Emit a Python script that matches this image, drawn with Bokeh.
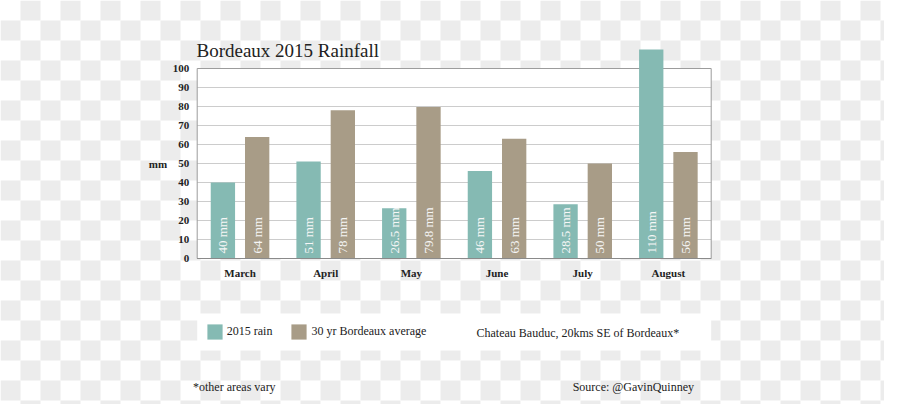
import numpy as np
from bokeh.plotting import figure
from bokeh.models import (ColumnDataSource, Range1d, FixedTicker, Label,
                          Legend, LegendItem)
from bokeh.transform import dodge
from bokeh.core.properties import value
from bokeh.embed import file_html
from bokeh.resources import INLINE

# ---------------- data ----------------
months = ["March", "April", "May", "June", "July", "August"]
rain_2015 = [40, 51, 26.5, 46, 28.5, 110]
avg_30yr = [64, 78, 79.8, 63, 50, 56]
y_ticks = [0, 10, 20, 30, 40, 50, 60, 70, 80, 90, 100]
series_names = ["2015 rain", "30 yr Bordeaux average"]
title_text = "Bordeaux 2015 Rainfall"
unit_text = "mm"
site_text = "Chateau Bauduc, 20kms SE of Bordeaux*"
note_text = "*other areas vary"
source_text = "Source: @GavinQuinney"

# ---------------- layout / style ----------------
W, H = 884, 404
BOX_L, BOX_R = 196.7, 710.7      # px of the plot box edges
XU = (BOX_R - BOX_L) / len(months)   # px per category
YU = 1.9                         # px per mm
Y0 = 258                         # px row of y = 0

def fx(X):  # canvas px -> x data (category index units)
    return (np.asarray(X, dtype=float) - BOX_L) / XU - 0.5

def fy(Y):  # canvas px -> y data
    return (Y0 - np.asarray(Y, dtype=float)) / YU

TEAL = "#85bab3"
TAN = "#a89c87"
FONT = "Liberation Serif"
DARK = "#222222"

n = len(months)
idx = list(range(n))
src = ColumnDataSource(dict(
    idx=idx,
    month=months,
    rain=rain_2015,
    avg=avg_30yr,
    rain_lbl=[f"{v:g} mm" for v in rain_2015],
    avg_lbl=[f"{v:g} mm" for v in avg_30yr],
))

p = figure(x_range=Range1d(float(fx(0)), float(fx(W))),
           y_range=Range1d(float(fy(H)), float(fy(0))), width=W, height=H,
           output_backend="svg", toolbar_location=None,
           min_border_left=0, min_border_right=0, min_border_top=0, min_border_bottom=0,
           background_fill_color="white", border_fill_color="white",
           outline_line_color=None)

box_l, box_r = -0.5, n - 0.5
top_val = y_ticks[-1]

# checkerboard backdrop of the reference picture
TILE = 20
ii, jj = np.meshgrid(np.arange(int(np.ceil(W / TILE)) + 1), np.arange(int(np.ceil(H / TILE)) + 1))
mask = (ii + jj) % 2 == 1
px0 = ii[mask] * TILE
py0 = jj[mask] * TILE
p.quad(left=fx(px0), right=fx(px0 + TILE), top=fy(py0), bottom=fy(py0 + TILE),
       fill_color="#ececec", line_color=None, level="image")

# white plot box
p.quad(left=[box_l], right=[box_r], bottom=[0], top=[top_val],
       fill_color="white", line_color=None, level="image")
# white legend strip
p.quad(left=[box_l], right=[box_r], bottom=[float(fy(350))], top=[float(fy(313))],
       fill_color="white", line_color=None, level="image")

# grid lines
p.segment(x0=box_l, x1=box_r, y0=y_ticks[1:-1], y1=y_ticks[1:-1],
          line_color="#cccccc", line_width=1)
# box border
p.quad(left=[box_l], right=[box_r], bottom=[0], top=[top_val],
       fill_color=None, line_color="#9c9c9c", line_width=1)

BW = 0.284
r1 = p.vbar(x=dodge("idx", -0.2), top="rain", width=BW,
            source=src, fill_color=TEAL, line_color=None)
r2 = p.vbar(x=dodge("idx", 0.2), top="avg", width=BW,
            source=src, fill_color=TAN, line_color=None)

for off, col in [(-0.2, "rain_lbl"), (0.2, "avg_lbl")]:
    p.text(x=dodge("idx", off), y=2.6, text=col, source=src,
           angle=np.pi / 2, text_align="left", text_baseline="middle",
           text_font=value(FONT), text_font_size="13px", text_color="#f6f6f6")

# darker base line
p.segment(x0=box_l, x1=box_r, y0=y_ticks[0], y1=y_ticks[0], line_color="#8a8a8a", line_width=1.2)

p.xgrid.visible = False
p.ygrid.visible = False

# axes drawn at fixed locations inside the frame
p.yaxis.fixed_location = box_l
p.yaxis.ticker = FixedTicker(ticks=y_ticks)
p.yaxis.axis_line_color = None
p.yaxis.major_tick_line_color = None
p.yaxis.minor_tick_line_color = None
p.yaxis.major_tick_out = 0
p.yaxis.major_tick_in = 0
p.yaxis.major_label_standoff = 8
p.yaxis.major_label_text_font = FONT
p.yaxis.major_label_text_font_style = "bold"
p.yaxis.major_label_text_font_size = "11px"
p.yaxis.major_label_text_color = DARK
p.yaxis.major_label_text_baseline = "top"

p.xaxis.fixed_location = 0
p.xaxis.ticker = FixedTicker(ticks=idx)
p.xaxis.major_label_overrides = {i: m for i, m in zip(idx, months)}
p.xaxis.axis_line_color = None
p.xaxis.major_tick_line_color = None
p.xaxis.minor_tick_line_color = None
p.xaxis.major_tick_out = 0
p.xaxis.major_tick_in = 0
p.xaxis.major_label_standoff = 8
p.xaxis.major_label_text_font = FONT
p.xaxis.major_label_text_font_style = "bold"
p.xaxis.major_label_text_font_size = "11px"
p.xaxis.major_label_text_color = DARK

# unit label
p.add_layout(Label(x=float(fx(157.5)), y=50, text=unit_text, text_align="center",
                   text_baseline="middle", text_font=FONT, text_font_style="bold",
                   text_font_size="11px", text_color=DARK))

# title
p.add_layout(Label(x=float(fx(196)), y=float(fy(49.5)), text=title_text, text_align="left",
                   text_baseline="alphabetic", text_font=FONT,
                   text_font_size="19px", text_color=DARK))

legend = Legend(items=[LegendItem(label=series_names[0], renderers=[r1]),
                       LegendItem(label=series_names[1], renderers=[r2])],
                orientation="horizontal", location=(204.8, H - 341.1),
                padding=0, margin=0,
                spacing=17, glyph_width=19, glyph_height=19, label_height=19,
                label_standoff=3, label_text_font=FONT, label_text_font_size="12px",
                label_text_color=DARK, border_line_color=None,
                background_fill_alpha=0)
p.add_layout(legend, "center")

p.add_layout(Label(x=float(fx(476)), y=float(fy(332)), text=site_text, text_align="left",
                   text_baseline="middle", text_font=FONT, text_font_size="12px",
                   text_color=DARK))
p.add_layout(Label(x=float(fx(192.5)), y=float(fy(386)), text=note_text, text_align="left",
                   text_baseline="middle", text_font=FONT, text_font_size="12px",
                   text_color=DARK))
p.add_layout(Label(x=float(fx(693.5)), y=float(fy(386)), text=source_text, text_align="right",
                   text_baseline="middle", text_font=FONT, text_font_size="12px",
                   text_color=DARK))

open("out.html", "w").write(file_html(p, INLINE))
